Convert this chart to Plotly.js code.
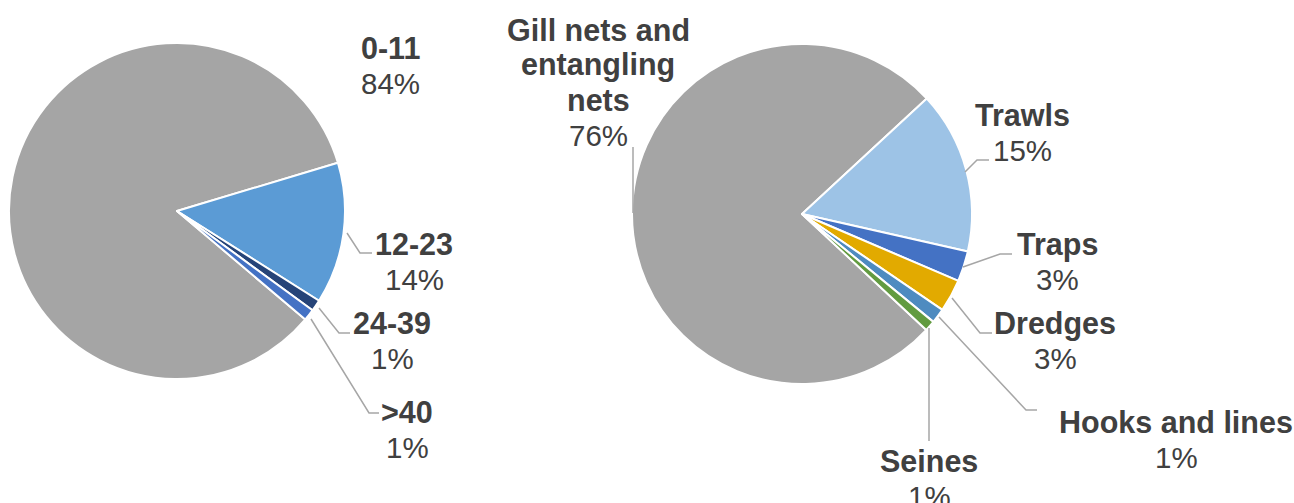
<!DOCTYPE html>
<html>
<head>
<meta charset="utf-8">
<script src="https://cdn.plot.ly/plotly-3.0.1.min.js"></script>
<style>html,body{margin:0;padding:0;background:#fff;}#chart{width:1294px;height:503px;}</style>
</head>
<body>
<div id="chart"></div>
<script>
// ---- Data ----
const ageLabels = ['0-11', '12-23', '24-39', '>40'];
const ageValues = [84.2, 13.6, 1.1, 1.1];
const ageColors = ['#A5A5A5', '#5B9BD5', '#264478', '#4472C4'];

const gearLabels = ['Gill nets and entangling nets', 'Trawls', 'Traps', 'Dredges', 'Hooks and lines', 'Seines'];
const gearLines = [['Gill nets and', 'entangling', 'nets'], ['Trawls'], ['Traps'], ['Dredges'], ['Hooks and lines'], ['Seines']];
const gearValues = [76.1, 15.4, 2.9, 3.1, 1.4, 1.0];
const gearColors = ['#A5A5A5', '#9DC3E6', '#4472C4', '#E2AA00', '#4E8BC0', '#629B40'];

// ---- Layout helpers (pixel -> paper) ----
const W = 1294, H = 503;
const X = px => px / W;
const Y = py => 1 - py / H;
const FS_BOLD = 30.5;
const FS_REG = 29.5;
const TXT = '#404040';
const LINE = '#A6A6A6';
const FONT = 'Liberation Sans, Arial, sans-serif';

function pct(v) { return Math.round(v) + '%'; }

// label placement (pixel centres of first line), line height
const LH = 35;
const ageLabelPos = [[391, 48], [414, 244], [392, 323], [407, 412]];
const gearLabelPos = [[598, 30], [1023, 115], [1057, 244], [1055, 323], [1176, 422], [929, 461]];

const annotations = [];
function addLabel(lines, value, pos) {
  lines.forEach((ln, i) => {
    annotations.push({
      xref: 'paper', yref: 'paper', x: X(pos[0]), y: Y(pos[1] + i * LH),
      xanchor: 'center', yanchor: 'middle', showarrow: false,
      text: '<b>' + ln + '</b>', font: {family: FONT, size: FS_BOLD, color: TXT}
    });
  });
  annotations.push({
    xref: 'paper', yref: 'paper', x: X(pos[0]), y: Y(pos[1] + lines.length * LH),
    xanchor: 'center', yanchor: 'middle', showarrow: false,
    text: pct(value), font: {family: FONT, size: FS_REG, color: TXT}
  });
}
ageLabels.forEach((l, i) => addLabel([l], ageValues[i], ageLabelPos[i]));
gearLines.forEach((l, i) => addLabel(l, gearValues[i], gearLabelPos[i]));

// leader lines (pixel polylines)
const leaders = [
  [[347, 233], [360, 253], [372, 253]],
  [[319, 308], [339, 333], [350, 333]],
  [[311, 319], [369, 413], [379, 413]],
  [[633, 213], [633, 147]],
  [[965, 172], [977, 160], [989, 160]],
  [[963, 267], [1000, 254], [1012, 254]],
  [[952, 298], [980, 333], [992, 333]],
  [[939, 317], [1026, 410], [1037, 410]],
  [[929, 328], [929, 441]]
];
const shapes = leaders.map(pts => ({
  type: 'path', xref: 'paper', yref: 'paper', layer: 'above',
  path: pts.map((p, i) => (i ? 'L' : 'M') + X(p[0]) + ',' + Y(p[1])).join(' '),
  line: {color: LINE, width: 1.5}
}));

const traces = [
  {
    type: 'pie', labels: ageLabels, values: ageValues, sort: false, direction: 'clockwise',
    rotation: 130.2, textinfo: 'none', hoverinfo: 'label+percent',
    marker: {colors: ageColors, line: {color: '#FFFFFF', width: 2}},
    domain: {x: [X(9), X(345)], y: [Y(379), Y(43)]}, showlegend: false
  },
  {
    type: 'pie', labels: gearLabels, values: gearValues, sort: false, direction: 'clockwise',
    rotation: 133, textinfo: 'none', hoverinfo: 'label+percent',
    marker: {colors: gearColors, line: {color: '#FFFFFF', width: 2}},
    domain: {x: [X(632), X(972)], y: [Y(384), Y(44)]}, showlegend: false
  }
];

const layout = {
  width: W, height: H, margin: {l: 0, r: 0, t: 0, b: 0},
  paper_bgcolor: '#FFFFFF', plot_bgcolor: '#FFFFFF',
  showlegend: false, annotations: annotations, shapes: shapes,
  font: {family: FONT}
};

Plotly.newPlot('chart', traces, layout, {displayModeBar: false, staticPlot: true});
</script>
</body>
</html>
